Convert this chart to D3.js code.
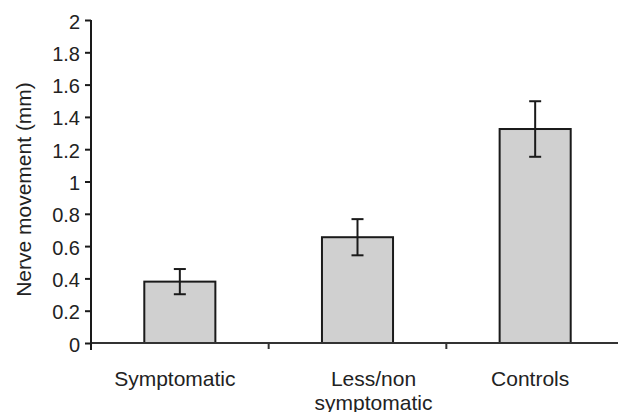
<!DOCTYPE html>
<html>
<head>
<meta charset="utf-8">
<script src="https://cdn.jsdelivr.net/npm/d3@7"></script>
<style>
  body { margin: 0; background: #fff; }
  svg { display: block; font-family: "Liberation Sans", Arial, sans-serif; }
</style>
</head>
<body>
<div id="chart"></div>
<script>
// data
const categories = ["Symptomatic", "Less/non symptomatic", "Controls"];
const categoryLines = [["Symptomatic"], ["Less/non", "symptomatic"], ["Controls"]];
const means = [0.38, 0.655, 1.325];
const errors = [0.078, 0.112, 0.172];
const yTicks = [0, 0.2, 0.4, 0.6, 0.8, 1, 1.2, 1.4, 1.6, 1.8, 2];
const yTickLabels = ["0", "0.2", "0.4", "0.6", "0.8", "1", "1.2", "1.4", "1.6", "1.8", "2"];

const width = 618, height = 412;
const margin = { top: 20, right: -6, bottom: 69, left: 91 };

const svg = d3.select("#chart")
  .append("svg")
  .attr("width", width)
  .attr("height", height);

// scales
const x = d3.scaleBand()
  .domain(categories)
  .range([margin.left, width - margin.right])
  .padding(0);

const y = d3.scaleLinear()
  .domain([0, 2])
  .range([height - margin.bottom, margin.top]);

const barW = x.bandwidth() * 0.4;
const ink = "#1a1a1a";

// bars
svg.append("g")
  .selectAll("rect")
  .data(categories)
  .join("rect")
  .attr("x", (d) => x(d) + (x.bandwidth() - barW) / 2)
  .attr("y", (d, i) => y(means[i]))
  .attr("width", barW)
  .attr("height", (d, i) => y(0) - y(means[i]))
  .attr("fill", "#d0d0d0")
  .attr("stroke", ink)
  .attr("stroke-width", 2);

// error bars
const err = svg.append("g")
  .attr("stroke", ink)
  .attr("stroke-width", 2)
  .selectAll("g")
  .data(categories)
  .join("g")
  .attr("transform", (d) => "translate(" + (x(d) + x.bandwidth() / 2) + ",0)");

err.append("line")
  .attr("y1", (d, i) => y(means[i] - errors[i]))
  .attr("y2", (d, i) => y(means[i] + errors[i]));
err.append("line")
  .attr("x1", -6).attr("x2", 6)
  .attr("y1", (d, i) => y(means[i] + errors[i]))
  .attr("y2", (d, i) => y(means[i] + errors[i]));
err.append("line")
  .attr("x1", -6).attr("x2", 6)
  .attr("y1", (d, i) => y(means[i] - errors[i]))
  .attr("y2", (d, i) => y(means[i] - errors[i]));

// x axis: line with ticks at category boundaries
const xAxis = svg.append("g")
  .attr("transform", "translate(0," + y(0) + ")");

xAxis.append("line")
  .attr("x1", x.range()[0])
  .attr("x2", x.range()[1])
  .attr("stroke", "#333")
  .attr("stroke-width", 2);

xAxis.selectAll(".bound")
  .data(categories.slice(1))
  .join("line")
  .attr("class", "bound")
  .attr("x1", (d) => x(d)).attr("x2", (d) => x(d))
  .attr("y1", 0).attr("y2", 6)
  .attr("stroke", "#333")
  .attr("stroke-width", 2);

// category labels (Excel placed them a little off centre)
const labelDx = [-5, 16, -5];
xAxis.selectAll(".cat")
  .data(categories)
  .join("text")
  .attr("class", "cat")
  .attr("text-anchor", "middle")
  .attr("font-size", 21)
  .attr("fill", "#222")
  .attr("transform", (d, i) => "translate(" + (x(d) + x.bandwidth() / 2 + labelDx[i]) + ",43)")
  .selectAll("tspan")
  .data((d, i) => categoryLines[i])
  .join("tspan")
  .attr("x", 0)
  .attr("dy", (d, j) => j === 0 ? 0 : 24)
  .text((d) => d);

// y axis
const yAxis = svg.append("g")
  .attr("transform", "translate(" + margin.left + ",0)")
  .call(d3.axisLeft(y)
    .tickValues(yTicks)
    .tickFormat((d, i) => yTickLabels[i])
    .tickSize(6)
    .tickSizeOuter(0)
    .tickPadding(5));

yAxis.select(".domain")
  .attr("stroke", ink)
  .attr("stroke-width", 2)
  .attr("d", "M0," + (y(0) + 7) + "V" + y(2));
yAxis.selectAll(".tick line")
  .attr("stroke", ink)
  .attr("stroke-width", 2);
yAxis.selectAll(".tick text")
  .attr("font-size", 20)
  .attr("fill", "#222")
  .attr("font-family", "Liberation Sans, Arial, sans-serif")
  .attr("dy", "0.4em");

// y axis title
svg.append("text")
  .attr("transform", "translate(31," + ((y(2) + y(0)) / 2 + 8) + ") rotate(-90)")
  .attr("text-anchor", "middle")
  .attr("font-size", 21)
  .attr("fill", "#222")
  .text("Nerve movement (mm)");
</script>
</body>
</html>
